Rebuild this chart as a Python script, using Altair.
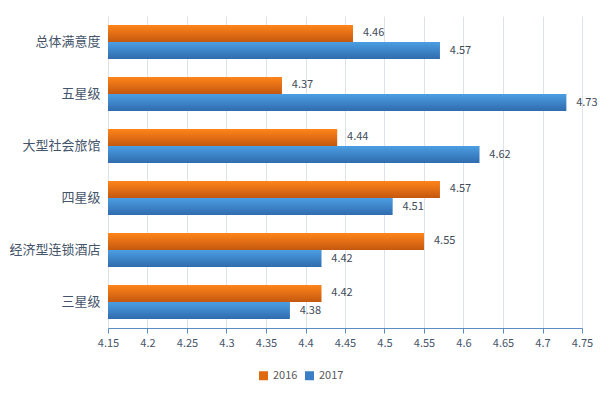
import altair as alt
import pandas as pd

categories = ["总体满意度", "五星级", "大型社会旅馆", "四星级", "经济型连锁酒店", "三星级"]
years = ["2016", "2017"]
values_2016 = [4.46, 4.37, 4.44, 4.57, 4.55, 4.42]
values_2017 = [4.57, 4.73, 4.62, 4.51, 4.42, 4.38]
x_ticks = [4.15, 4.2, 4.25, 4.3, 4.35, 4.4, 4.45, 4.5, 4.55, 4.6, 4.65, 4.7, 4.75]

rows = []
for c, a, b in zip(categories, values_2016, values_2017):
    rows.append({"cat": c, "year": "2016", "v": a})
    rows.append({"cat": c, "year": "2017", "v": b})
df = pd.DataFrame(rows)

FONT = "Noto Sans CJK SC"
y_enc = alt.Y("cat:N", sort=categories, title=None,
              scale=alt.Scale(paddingInner=0.346, paddingOuter=0.173),
              axis=alt.Axis(ticks=False, domain=False, labelFontSize=13, labelColor="#44546a",
                            labelFont=FONT, labelPadding=8))
yoff = alt.YOffset("year:N", scale=alt.Scale(domain=years, paddingInner=0, paddingOuter=0))
x_enc = alt.X("v:Q", title=None,
              scale=alt.Scale(domain=[4.15, 4.75], zero=False, nice=False),
              axis=alt.Axis(values=x_ticks, format=".2~f", grid=True, gridColor="#dde1e8",
                            domainColor="#5b8cc4", tickColor="#5b8cc4", tickSize=5,
                            labelFontSize=11, labelColor="#44546a", labelFont=FONT,
                            labelPadding=4, labelFlush=False))

base = alt.Chart(df)

flat = base.mark_bar().encode(
    y=y_enc, yOffset=yoff, x=x_enc, x2=alt.datum(4.15),
    color=alt.Color("year:N", scale=alt.Scale(domain=years, range=["#e06a12", "#3a7fc6"]),
                    legend=alt.Legend(title=None, orient="none", legendX=150, legendY=354,
                                      direction="horizontal", symbolType="square", symbolSize=81,
                                      symbolStrokeWidth=0, labelFontSize=11, labelColor="#595959",
                                      labelFont=FONT, columnPadding=6, labelOffset=4, padding=0,
                                      labelLimit=0)),
)

def grad(top, bottom):
    return alt.Gradient(gradient="linear", x1=0, y1=0, x2=0, y2=1,
                        stops=[alt.GradientStop(offset=0, color=top),
                               alt.GradientStop(offset=1, color=bottom)])

g16 = base.transform_filter(alt.datum.year == "2016").mark_bar(
    color=grad("#ff851a", "#c4580f")).encode(y=y_enc, yOffset=yoff, x=x_enc, x2=alt.datum(4.15))
g17 = base.transform_filter(alt.datum.year == "2017").mark_bar(
    color=grad("#4b9ee2", "#2f6cae")).encode(y=y_enc, yOffset=yoff, x=x_enc, x2=alt.datum(4.15))

labels = base.mark_text(align="left", baseline="middle", dx=10, fontSize=11,
                        color="#404b5a", font=FONT).encode(
    y=y_enc, yOffset=yoff, x=x_enc, text=alt.Text("v:Q", format=".2f"))

chart = alt.layer(flat, g16, g17, labels).properties(
    width=474, height=312,
    autosize=alt.AutoSizeParams(type="none"),
    padding={"left": 100, "top": 8, "right": 16, "bottom": 58},
).configure_view(stroke=None)

chart.save("out.html", embed_options={"renderer": "svg", "actions": False})
